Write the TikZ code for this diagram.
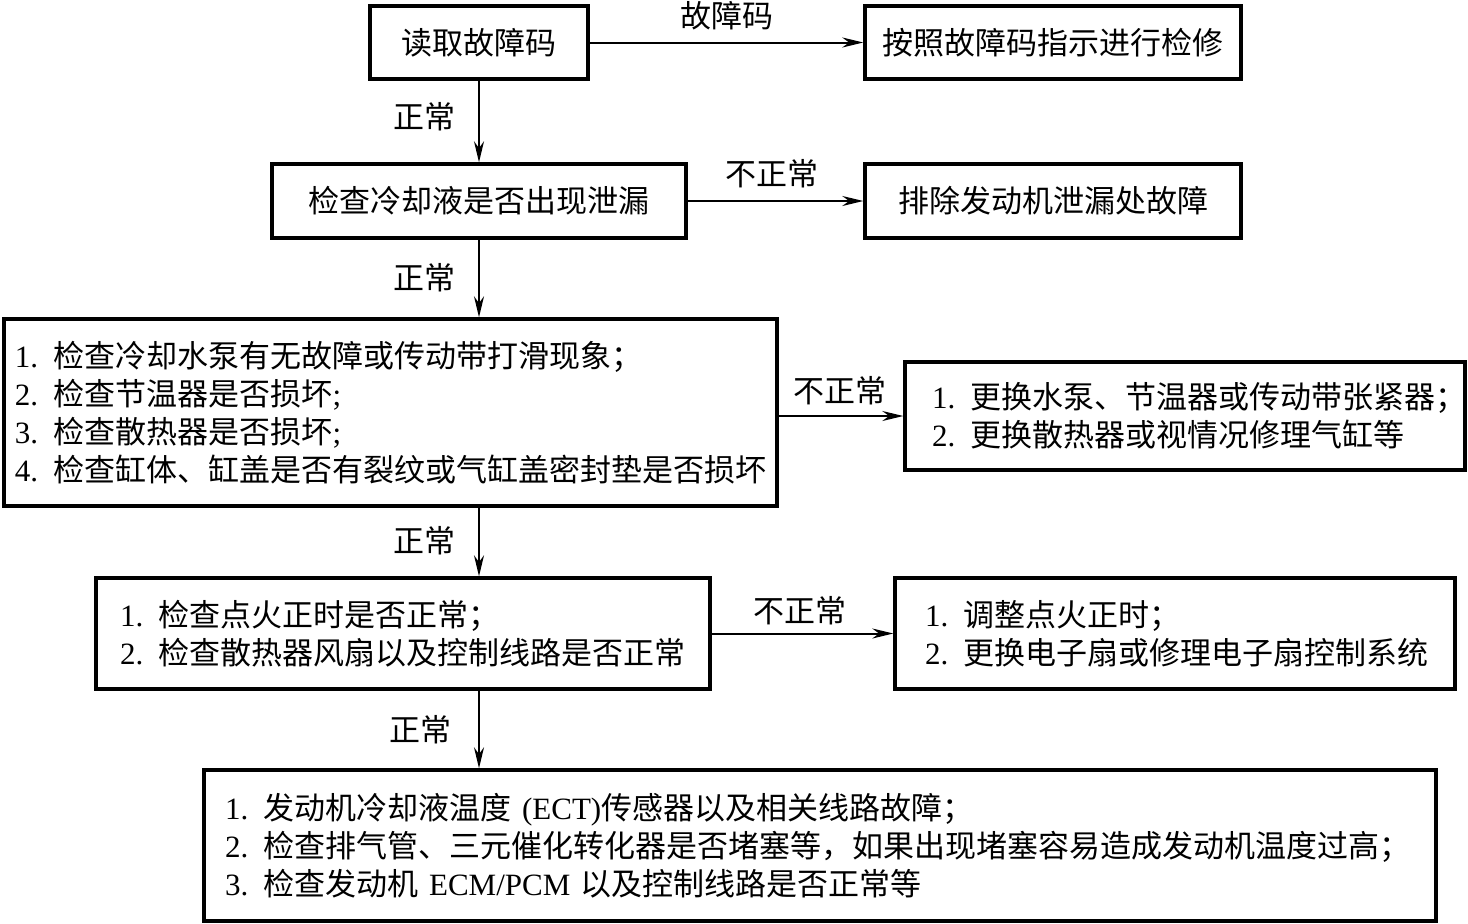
\documentclass[tikz,border=0pt]{standalone}
\usepackage{fontspec}
\setmainfont{Liberation Serif}
\newfontfamily\cjk{Noto Sans CJK SC}
\usetikzlibrary{arrows.meta}
\newcommand{\LL}[1]{{\rmfamily #1}}
\tikzset{
  box/.style={draw, line width=3.4pt, inner sep=0pt, font=\cjk\fontsize{31}{38}\selectfont},
  lbox/.style={box, align=left},
  lab/.style={font=\cjk\fontsize{31}{36}\selectfont, inner sep=0pt},
  arr/.style={line width=2pt, -{Stealth[length=21pt,width=10pt]}},
}
\begin{document}
\begin{tikzpicture}[x=1pt,y=-1pt]
\useasboundingbox (0,0) rectangle (1468,924);
\node[box, minimum width=218pt, minimum height=73pt] (b1) at (479,42.5) {读取故障码};
\node[box, minimum width=376pt, minimum height=73pt] (b2) at (1053,42.5) {按照故障码指示进行检修};
\node[box, minimum width=414pt, minimum height=74pt] (b3) at (479,201) {检查冷却液是否出现泄漏};
\node[box, minimum width=376pt, minimum height=74pt] (b4) at (1053,201) {排除发动机泄漏处故障};
\node[lbox, minimum width=773pt, minimum height=187pt, inner xsep=11pt, text width=751pt] (b5) at (390.5,412.5)
 {\LL{1. }检查冷却水泵有无故障或传动带打滑现象；\\
  \LL{2. }检查节温器是否损坏\LL{;}\\
  \LL{3. }检查散热器是否损坏\LL{;}\\
  \LL{4. }检查缸体、缸盖是否有裂纹或气缸盖密封垫是否损坏};
\node[lbox, minimum width=560pt, minimum height=108pt, inner xsep=27pt, text width=506pt] (b6) at (1185,416)
 {\LL{1. }更换水泵、节温器或传动带张紧器；\\
  \LL{2. }更换散热器或视情况修理气缸等};
\node[lbox, minimum width=614pt, minimum height=111pt, inner xsep=24pt, text width=566pt] (b7) at (403,633.5)
 {\LL{1. }检查点火正时是否正常；\\
  \LL{2. }检查散热器风扇以及控制线路是否正常};
\node[lbox, minimum width=560pt, minimum height=111pt, inner xsep=30pt, text width=500pt] (b8) at (1175,633.5)
 {\LL{1. }调整点火正时；\\
  \LL{2. }更换电子扇或修理电子扇控制系统};
\node[lbox, minimum width=1232pt, minimum height=151pt, inner xsep=21pt, text width=1190pt] (b9) at (820,845.5)
 {\LL{1. }发动机冷却液温度\LL{ (ECT)}传感器以及相关线路故障；\\
  \LL{2. }检查排气管、三元催化转化器是否堵塞等，如果出现堵塞容易造成发动机温度过高；\\
  \LL{3. }检查发动机\LL{ ECM/PCM }以及控制线路是否正常等};
% connectors
\draw[arr] (b1.east) -- (b2.west);
\draw[arr] (b3.east) -- (b4.west);
\draw[arr] (b6.west -| b5.east) -- (b6.west);
\draw[arr] (b7.east) -- (b8.west);
\draw[arr] (b1.south) -- (b3.north);
\draw[arr] (b3.south) -- (b3.south |- b5.north);
\draw[arr] (b3.south |- b5.south) -- (b3.south |- b7.north);
\draw[arr] (b3.south |- b7.south) -- (b3.south |- b9.north);
% labels
\node[lab] (l1) at (727,16) {故障码};
\node[lab] (l2) at (772,174) {不正常};
\node[lab] (l3) at (840,391) {不正常};
\node[lab] (l4) at (800,611) {不正常};
\node[lab] (l5) at (424,117) {正常};
\node[lab] (l6) at (424,278) {正常};
\node[lab] (l7) at (424,541) {正常};
\node[lab] (l8) at (420,730) {正常};
\end{tikzpicture}
\end{document}
